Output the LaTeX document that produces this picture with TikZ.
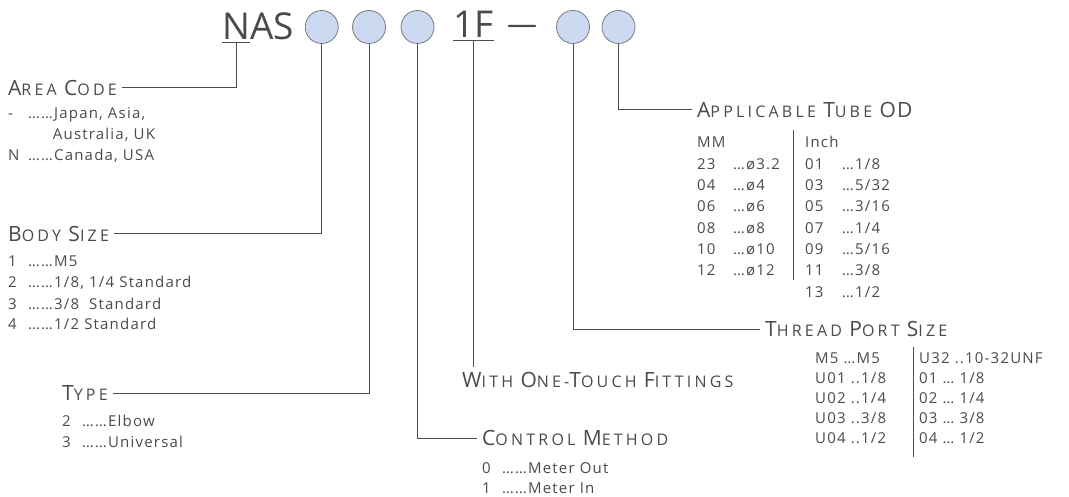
\documentclass[tikz,border=0pt]{standalone}
\usepackage{fontspec}
\setmainfont{Open Sans}
\newfontfamily\bodyfont[LetterSpace=8]{Open Sans}
\newfontfamily\headfont[LetterSpace=20]{Open Sans}
\usetikzlibrary{positioning}

\definecolor{ink}{HTML}{4A4A4A}
\definecolor{wire}{HTML}{4D4D4D}
\definecolor{dotfill}{HTML}{CBDAF1}
\definecolor{dotedge}{HTML}{7A7A7A}

% heading word: large first letter, smaller rest
\newcommand\hw[2]{{\fontsize{21}{21}\selectfont #1}{\fontsize{16}{16}\selectfont #2}}
% code column of a list row
\newcommand\itm[2][20pt]{\makebox[#1][l]{#2}}

\begin{document}
\begin{tikzpicture}[x=1pt, y=-1pt,
    code/.style={circle, draw=dotedge, fill=dotfill, line width=0.8pt, minimum size=33pt, inner sep=0pt},
    big/.style={font=\fontsize{37}{37}\selectfont, text=ink, inner sep=0pt},
    head/.style={font=\headfont\fontsize{16}{16}\selectfont, text=ink, inner xsep=5pt, inner ysep=0pt},
    list/.style={font=\bodyfont\fontsize{15}{21}\selectfont, text=ink, inner sep=0pt, anchor=base west},
    lead/.style={draw=wire, line width=1pt},
]
    \useasboundingbox (0,0) rectangle (1069,497);

    % part number
    \node[big, anchor=base west] (n) at (222,40) {N};
    \node[big, anchor=base west] (as) at (n.base east) {AS};
    \node[code] (c1) at (321.7,27) {};
    \node[code] (c2) at (369,27) {};
    \node[code] (c3) at (417.5,27) {};
    \node[big, anchor=base west] (onef) at (453,38) {1F};
    \node[big, font=\fontsize{30}{30}\selectfont, anchor=base west] (dash) at (507,35) {—};
    \node[code] (c4) at (573,27) {};
    \node[code] (c5) at (618.5,27) {};

    \draw[lead] ([yshift=-3pt]n.base west) -- ([yshift=-3pt]n.base east);
    \draw[lead] ([yshift=-3pt]onef.base west) -- ([yshift=-3pt]onef.base east);

    % headings
    \node[head, anchor=west] (area) at (3,88) {\hw{A}{REA} \hw{C}{ODE}};
    \node[head, anchor=west] (body) at (3,234) {\hw{B}{ODY} \hw{S}{IZE}};
    \node[head, anchor=west] (type) at (57,393) {\hw{T}{YPE}};
    \node[head, anchor=west] (ctrl) at (477,438) {\hw{C}{ONTROL} \hw{M}{ETHOD}};
    \node[head, anchor=west, inner ysep=5pt] (fit) at (457,380) {\hw{W}{ITH} \hw{O}{NE-}\hw{T}{OUCH} \hw{F}{ITTINGS}};
    \node[head, anchor=west] (thread) at (760,329) {\hw{T}{HREAD} \hw{P}{ORT} \hw{S}{IZE}};
    \node[head, anchor=west] (tube) at (692,110) {\hw{A}{PPLICABLE} \hw{T}{UBE} {\addfontfeature{LetterSpace=6}\hw{OD}{}}};

    % leaders
    \draw[lead] ([yshift=-3pt]n.base) |- (area);
    \draw[lead] (c1) |- (body);
    \draw[lead] (c2) |- (type);
    \draw[lead] (c3) |- (ctrl);
    \draw[lead] ([yshift=-3pt]onef.base) -- (onef.base |- fit.north);
    \draw[lead] (c4) |- (thread);
    \draw[lead] (c5) |- (tube);

    % area code
    \node[list] (ar0) at (8,119) {\itm{-}……Japan, Asia,};
    \node[list] (ar1) at (8,140) {\itm{}\phantom{……}Australia, UK};
    \node[list] (ar2) at (8,161) {\itm{N}……Canada, USA};

    % body size
    \foreach \t [count=\i from 0] in {{\itm{1}……M5}, {\itm{2}……1/8, 1/4 Standard},
        {\itm{3}……3/8\hspace{10pt}Standard}, {\itm{4}……1/2 Standard}}
        \node[list] (bs\i) at (8,267+21*\i) {\t};

    % type
    \node[list] (ty0) at (62,426) {\itm{2}……Elbow};
    \node[list] (ty1) at (62,447) {\itm{3}……Universal};

    % control method
    \node[list] (cm0) at (482,473) {\itm{0}……Meter Out};
    \node[list] (cm1) at (482,493) {\itm{1}……Meter In};

    % applicable tube OD
    \node[list] (mmhead) at (697,148) {MM};
    \node[list] (inhead) at (805,148) {Inch};
    \foreach \t [count=\i] in {{\itm[36pt]{23}…ø3.2}, {\itm[36pt]{04}…ø4}, {\itm[36pt]{06}…ø6},
        {\itm[36pt]{08}…ø8}, {\itm[36pt]{10}…ø10}, {\itm[36pt]{12}…ø12}}
        \node[list] (mm\i) at (697,148+21.3*\i) {\t};
    \foreach \t [count=\i] in {{\itm[37pt]{01}…1/8}, {\itm[37pt]{03}…5/32}, {\itm[37pt]{05}…3/16},
        {\itm[37pt]{07}…1/4}, {\itm[37pt]{09}…5/16}, {\itm[37pt]{11}…3/8}, {\itm[37pt]{13}…1/2}}
        \node[list] (in\i) at (805,148+21.3*\i) {\t};
    \draw[lead] (793,130) -- (793,280);

    % thread port size
    \foreach \t [count=\i from 0] in {{M5 …M5}, {U01 ..1/8}, {U02 ..1/4}, {U03 ..3/8}, {U04 ..1/2}}
        \node[list] (tl\i) at (815,363+20*\i) {\t};
    \foreach \t [count=\i from 0] in {{U32 ..10-32UNF}, {01 … 1/8}, {02 … 1/4}, {03 … 3/8}, {04 … 1/2}}
        \node[list] (tr\i) at (919,363+20*\i) {\t};
    \draw[lead] (913,347) -- (913,457);
\end{tikzpicture}
\end{document}
